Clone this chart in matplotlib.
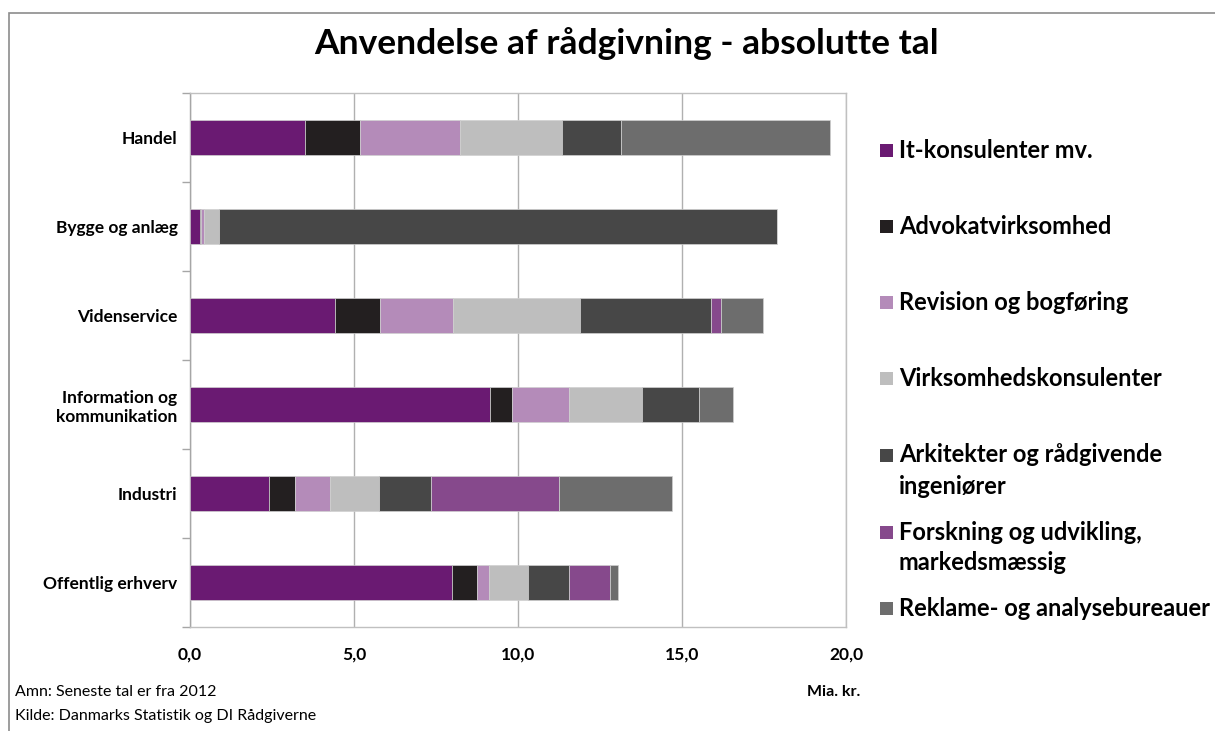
import matplotlib.pyplot as plt
import numpy as np
from matplotlib.patches import Rectangle

# Categories (top to bottom) and series values in Mia. kr.
categories = ["Handel", "Bygge og anlæg", "Videnservice",
              "Information og\nkommunikation", "Industri", "Offentlig erhverv"]

series_labels = ["It-konsulenter mv.", "Advokatvirksomhed", "Revision og bogføring",
                 "Virksomhedskonsulenter", "Arkitekter og rådgivende\ningeniører",
                 "Forskning og udvikling,\nmarkedsmæssig", "Reklame- og analysebureauer"]
series_colors = ["#6A1A72", "#231F20", "#B48BB9", "#BEBEBE", "#474747", "#86498C", "#6D6D6D"]

it_konsulenter = [3.51, 0.30, 4.41, 9.16, 2.42, 7.99]
advokat = [1.68, 0.05, 1.39, 0.67, 0.78, 0.77]
revision = [3.05, 0.07, 2.23, 1.71, 1.06, 0.36]
virksomhed = [3.09, 0.45, 3.85, 2.23, 1.49, 1.19]
arkitekter = [1.81, 17.04, 4.00, 1.75, 1.61, 1.25]
forskning = [0.00, 0.00, 0.30, 0.00, 3.90, 1.23]
reklame = [6.36, 0.00, 1.28, 1.03, 3.44, 0.26]

series_values = [it_konsulenter, advokat, revision, virksomhed,
                 arkitekter, forskning, reklame]

x_ticks = [0, 5, 10, 15, 20]

plt.rcParams['font.family'] = ['Lato', 'DejaVu Sans']

fig = plt.figure(figsize=(12.15, 7.31), dpi=100)
ax = fig.add_axes([190 / 1215, 104 / 731, 656 / 1215, 534 / 731])

y = np.arange(len(categories))
left = np.zeros(len(categories))
for vals, color in zip(series_values, series_colors):
    ax.barh(y, vals, left=left, height=0.40, color=color,
            edgecolor='#d0d0d0', linewidth=0.5, zorder=3)
    left += np.array(vals)

ax.set_xlim(0, 20)
ax.set_ylim(len(categories) - 0.5, -0.5)
ax.set_xticks(x_ticks)
ax.set_xticklabels([f"{t:.1f}".replace('.', ',') for t in x_ticks],
                   fontsize=12.5, fontweight='bold')
ax.tick_params(axis='x', length=0, pad=14)
ax.set_yticks(y)
ax.set_yticklabels(categories, fontsize=12.5, fontweight='bold', linespacing=1.2)
ax.tick_params(axis='y', which='major', length=0, pad=9)
ax.set_yticks(np.arange(len(categories) + 1) - 0.5, minor=True)
ax.tick_params(axis='y', which='minor', length=6, color='#a6a6a6', width=1)
ax.grid(axis='x', color='#b0b0b0', linewidth=1, zorder=0)
for s in ax.spines.values():
    s.set_color('#c0c0c0')
    s.set_linewidth(1)
ax.spines['left'].set_color('#a6a6a6')

fig.text(627 / 1215, 1 - 44 / 731, "Anvendelse af rådgivning - absolutte tal",
         ha='center', va='center', fontsize=25.5, fontweight='bold')

# legend drawn by hand to match spacing
leg_y = [150, 226, 302, 378, 455, 532, 608]
for lbl, color, yy in zip(series_labels, series_colors, leg_y):
    fig.patches.append(Rectangle((880 / 1215, 1 - (yy + 7) / 731), 13 / 1215, 13 / 731,
                                 transform=fig.transFigure, facecolor=color,
                                 edgecolor='none'))
    for i, line in enumerate(lbl.split('\n')):
        fig.text(899 / 1215, 1 - (yy + 31 * i) / 731, line, ha='left', va='center',
                 fontsize=17, fontweight='bold')

fig.text(15 / 1215, 1 - 692 / 731, "Amn: Seneste tal er fra 2012",
         ha='left', va='center', fontsize=11.5)
fig.text(15 / 1215, 1 - 716 / 731, "Kilde: Danmarks Statistik og DI Rådgiverne",
         ha='left', va='center', fontsize=11.5)
fig.text(860 / 1215, 1 - 692 / 731, "Mia. kr.", ha='right', va='center',
         fontsize=11.5, fontweight='bold')

# outer chart border (only top/left visible in the crop)
fig.patches.append(Rectangle((9 / 1215, -0.1), 1.2, 1.1 - 13 / 731,
                             transform=fig.transFigure, facecolor='none',
                             edgecolor='#8c8c8c', linewidth=1.2))

fig.savefig("out.png", dpi=100, facecolor='white')
